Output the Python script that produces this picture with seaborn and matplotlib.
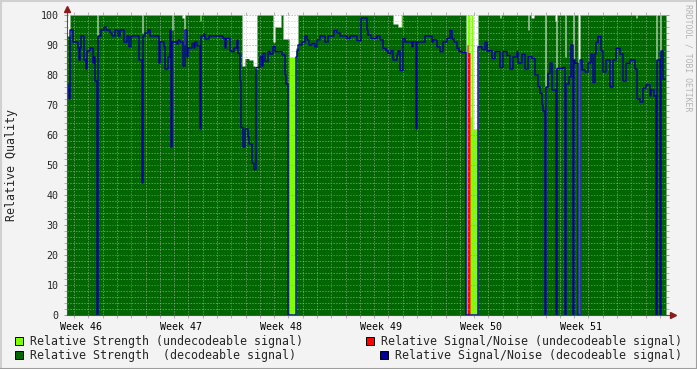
import numpy as np
import matplotlib
matplotlib.use('Agg')
import matplotlib.pyplot as plt
import matplotlib.dates as mdates
from matplotlib.patches import Rectangle
from matplotlib.lines import Line2D
import seaborn as sns
from datetime import datetime, timedelta

# one consolidated RRD row every 6048 s (6 weeks over 600 rows)
start = datetime(2008, 11, 12, 12, 0)
step_seconds = 6048
n_rows = 599

week_numbers = [46, 47, 48, 49, 50, 51]
week_labels = ['Week 46', 'Week 47', 'Week 48', 'Week 49', 'Week 50', 'Week 51']
y_ticks = [0, 10, 20, 30, 40, 50, 60, 70, 80, 90, 100]

# (value, number of rows) runs
snr_decodeable = [
    (77, 1), (75, 1), (72, 1), (95, 3), (91, 5), (89, 1), (85, 1), (89, 1), (93, 3), (85, 2),
    (82, 1), (88, 3), (89, 3), (84, 1), (86, 1), (78, 2), (0, 1), (93, 3), (95, 3), (96, 2),
    (95, 4), (94, 2), (93, 3), (95, 3), (93, 2), (95, 4), (91, 3), (93, 2), (89.5, 2), (93, 8),
    (85, 3), (44, 1), (93, 2), (94, 3), (95, 2), (93, 9), (84, 1), (91, 4), (89.5, 1), (82, 3),
    (86, 2), (95, 1), (56, 1), (91, 5), (90.3, 1), (91.7, 2), (91, 3), (83, 2), (95, 2), (86, 1),
    (89, 4), (90.5, 2), (89, 1), (91, 2), (89.7, 3), (62, 1), (93, 3), (93.7, 1), (92, 4), (93, 14),
    (92.2, 2), (89, 1), (92.2, 4), (88, 2), (87.8, 2), (89, 3), (91.7, 1), (87.2, 2), (78, 1), (62.5, 2),
    (56, 2), (62, 3), (59.5, 1), (57, 3), (50.6, 2), (48.5, 2), (82.5, 4), (86, 2), (83, 1), (87.2, 2),
    (84.5, 3), (87.8, 2), (87, 3), (89.5, 2), (87.8, 7), (86.7, 3), (80, 1), (77, 2), (0, 8), (86, 1),
    (88, 1), (90, 4), (91, 3), (93, 2), (91.7, 2), (90, 3), (90.5, 3), (89.4, 2), (91.7, 3), (93, 5),
    (91, 3), (93, 6), (94.8, 3), (94, 3), (93, 7), (92.2, 3), (93, 7), (91.5, 4), (99, 6), (95, 1),
    (93.3, 3), (92.2, 6), (93, 3), (91.7, 3), (88.9, 3), (88.1, 2), (87.2, 3), (88.1, 2), (85, 4), (86.7, 1),
    (88, 2), (81.5, 3), (92.2, 2), (91, 7), (89.4, 1), (91, 3), (62, 1), (91, 8), (93, 7), (91, 1),
    (91.7, 4), (89.4, 3), (87.8, 3), (91, 4), (92.2, 3), (94.8, 2), (92, 2), (91, 3), (88.9, 2), (87.8, 3),
    (87.5, 4), (0, 12), (89.4, 4), (88.5, 3), (90.9, 2), (88, 2), (88.1, 3), (85.5, 3), (87.8, 5), (82.5, 3),
    (87.8, 4), (86.5, 3), (82, 3), (86, 4), (87.8, 1), (84, 4), (86.9, 3), (82, 3), (86.1, 4), (85.5, 3),
    (80, 3), (76.1, 2), (73.9, 2), (70, 1), (68, 2), (0, 1), (76, 2), (80.5, 2), (84, 2), (75, 4),
    (0, 1), (82.2, 6), (82.5, 2), (0, 1), (77, 3), (79.4, 2), (90, 2), (0, 1), (85, 1), (83.9, 3),
    (0, 2), (85, 2), (81.7, 3), (81, 3), (84, 3), (86.9, 2), (77.5, 2), (87, 1), (90.9, 2), (92.8, 3),
    (88, 2), (81, 3), (85, 4), (76, 3), (85, 3), (88.9, 4), (87, 3), (78, 3), (83.9, 4), (85, 5),
    (82, 2), (72, 3), (71, 3), (75.6, 3), (76.7, 4), (73, 1), (75, 3), (73, 2), (0, 1), (85, 3),
    (0, 1), (88, 2), (78.6, 3),
]

strength_decodeable = [
    (93, 3), (100, 27), (93, 1), (100, 44), (94, 1), (100, 29), (95, 1), (100, 9), (99, 2), (90, 1),
    (100, 15), (98, 1), (100, 41), (83, 3), (85.5, 4), (85, 4), (83, 2), (82, 2), (100, 16), (91, 2),
    (96, 6), (100, 2), (92, 6), (0, 7), (89, 2), (100, 95), (97, 5), (96, 4), (100, 64), (0, 12),
    (100, 22), (99, 1), (100, 27), (95, 1), (100, 2), (99, 3), (100, 11), (76, 1), (100, 9), (98, 1),
    (82, 1), (100, 8), (86, 1), (100, 7), (85, 1), (100, 4), (0, 2), (100, 56), (99, 1), (100, 19),
    (85, 1), (100, 3), (88, 1), (100, 5),
]

strength_undecodeable = [
    (0, 133), (100, 1), (0, 88), (86, 7), (0, 105), (100, 1), (0, 65), (100, 3), (66, 1), (100, 2),
    (62, 5), (0, 188),
]

snr_undecodeable = [(0, 400), (90, 1), (87.5, 2), (0, 196)]


def expand(runs):
    vals = np.repeat([v for v, c in runs], [c for v, c in runs]).astype(float)
    vals = np.concatenate([vals, np.zeros(max(0, n_rows - len(vals)))])[:n_rows]
    return np.append(vals, vals[-1])


t0 = mdates.date2num(start)
step_days = step_seconds / 86400.0
t = t0 + np.arange(n_rows + 1) * step_days
t_end = t[-1]

snr_dec = expand(snr_decodeable)
snr_und = expand(snr_undecodeable)
str_dec = expand(strength_decodeable)
str_und = expand(strength_undecodeable)

sns.set_style('white')
plt.rcParams['font.family'] = ['DejaVu Sans Mono']

W, H = 697, 369
fig = plt.figure(figsize=(W / 100, H / 100), dpi=100, facecolor='#f3f3f3')
ax = fig.add_axes([67 / W, 54 / H, 599 / W, 300 / H])
ax.set_facecolor('white')

c_lg = '#80ff00'
c_dg = '#006600'
c_red = '#ff0000'
c_blue = '#000099'

ax.fill_between(t, 0, str_und, step='post', color=c_lg, lw=0, zorder=1)
ax.fill_between(t, 0, str_dec, step='post', color=c_dg, lw=0, zorder=1.1)
ax.fill_between(t, 0, snr_und, step='post', color=c_red, lw=0, zorder=1.2)

sns.lineplot(x=t, y=snr_dec, drawstyle='steps-post', color=c_blue, linewidth=1.0,
             estimator=None, ax=ax, zorder=4)

ax.set_xlim(t0, t_end)
ax.set_ylim(0, 100)

# grid: days / 2 units minor, weeks / 10 units major
first_day = datetime(start.year, start.month, start.day) + timedelta(days=1)
days = []
d = first_day
while mdates.date2num(d) < t_end:
    days.append(mdates.date2num(d))
    d += timedelta(days=1)
week_starts = [mdates.date2num(datetime.fromisocalendar(2008, w, 1)) for w in week_numbers]
week_lines = [w for w in week_starts if t0 < w < t_end] + \
    [week_starts[-1] + 7] if week_starts[-1] + 7 < t_end else [w for w in week_starts if t0 < w < t_end]

minor_kw = dict(color='#b8b8b8', lw=0.72, ls=(0, (1.4, 1.4)), alpha=0.55, zorder=3)
major_kw = dict(color='#e07070', lw=0.72, ls=(0, (1.4, 1.4)), alpha=0.6, zorder=3.1)
for v in days:
    if v not in week_lines:
        ax.axvline(v, **minor_kw)
for v in week_lines:
    ax.axvline(v, **major_kw)
for y in range(2, 100, 2):
    if y % 10:
        ax.axhline(y, **minor_kw)
for y in y_ticks[1:]:
    ax.axhline(y, **major_kw)

# ticks
ax.set_xticks([w + 3.5 for w in week_starts])
ax.set_xticklabels(week_labels)
ax.set_xticks(days, minor=True)
ax.set_yticks(y_ticks)
ax.set_yticks(range(0, 101, 2), minor=True)
ax.tick_params(axis='x', which='major', length=0, pad=5, labelsize=7.2, colors='black')
ax.tick_params(axis='x', which='minor', length=2, width=0.7, color='#b0b0b0', top=True, bottom=True)
ax.tick_params(axis='y', which='major', length=2, width=0.7, color='#d08080', pad=4, labelsize=7.2,
               right=True, left=True)
ax.tick_params(axis='y', which='minor', length=2, width=0.7, color='#b0b0b0', right=True, left=True)
for tk, v in zip(ax.xaxis.get_minor_ticks(), days):
    if v in week_lines:
        tk.tick1line.set_color('#d08080')
        tk.tick2line.set_color('#d08080')
for sp in ax.spines.values():
    sp.set_visible(False)

# axis lines with arrows
ax.plot([0, 0], [0, 1.02], color='#505050', lw=0.8, transform=ax.transAxes, clip_on=False, zorder=6)
ax.plot([0, 1.012], [0, 0], color='#505050', lw=0.8, transform=ax.transAxes, clip_on=False, zorder=6)
ax.plot([0], [1.02], marker='^', ms=4, color='#8b1a1a', transform=ax.transAxes, clip_on=False, zorder=7)
ax.plot([1.012], [0], marker='>', ms=4, color='#8b1a1a', transform=ax.transAxes, clip_on=False, zorder=7)

fig.text(12 / W, 1 - 165 / H, 'Relative Quality', rotation=90, ha='center', va='center', fontsize=8.4)
fig.text(688 / W, 1 - 4 / H, 'RRDTOOL / TOBI OETIKER', rotation=270, ha='center', va='top',
         fontsize=5.9, color='#b4b4b4')

# legend
legend_items = [
    (15, 341, c_lg, 'Relative Strength (undecodeable signal)'),
    (366, 341, c_red, 'Relative Signal/Noise (undecodeable signal)'),
    (15, 355, c_dg, 'Relative Strength  (decodeable signal)'),
    (380, 355, c_blue, 'Relative Signal/Noise (decodeable signal)'),
]
for x, y, col, label in legend_items:
    fig.add_artist(Rectangle((x / W, 1 - (y + 4) / H), 8 / W, 8 / H, transform=fig.transFigure,
                             facecolor=col, edgecolor='black', lw=0.7))
    fig.text((x + 15) / W, 1 - y / H, label, ha='left', va='center', fontsize=8.4)

# frame shading
fig.add_artist(Line2D([0, 1], [1 - 0.5 / H, 1 - 0.5 / H], color='#d0d0d0', lw=1.5, transform=fig.transFigure))
fig.add_artist(Line2D([0.5 / W, 0.5 / W], [0, 1], color='#d0d0d0', lw=1.5, transform=fig.transFigure))
fig.add_artist(Line2D([0, 1], [0.5 / H, 0.5 / H], color='#9e9e9e', lw=1.5, transform=fig.transFigure))
fig.add_artist(Line2D([1 - 0.5 / W, 1 - 0.5 / W], [0, 1], color='#9e9e9e', lw=1.5, transform=fig.transFigure))

fig.savefig('out.png', dpi=100, facecolor=fig.get_facecolor())
